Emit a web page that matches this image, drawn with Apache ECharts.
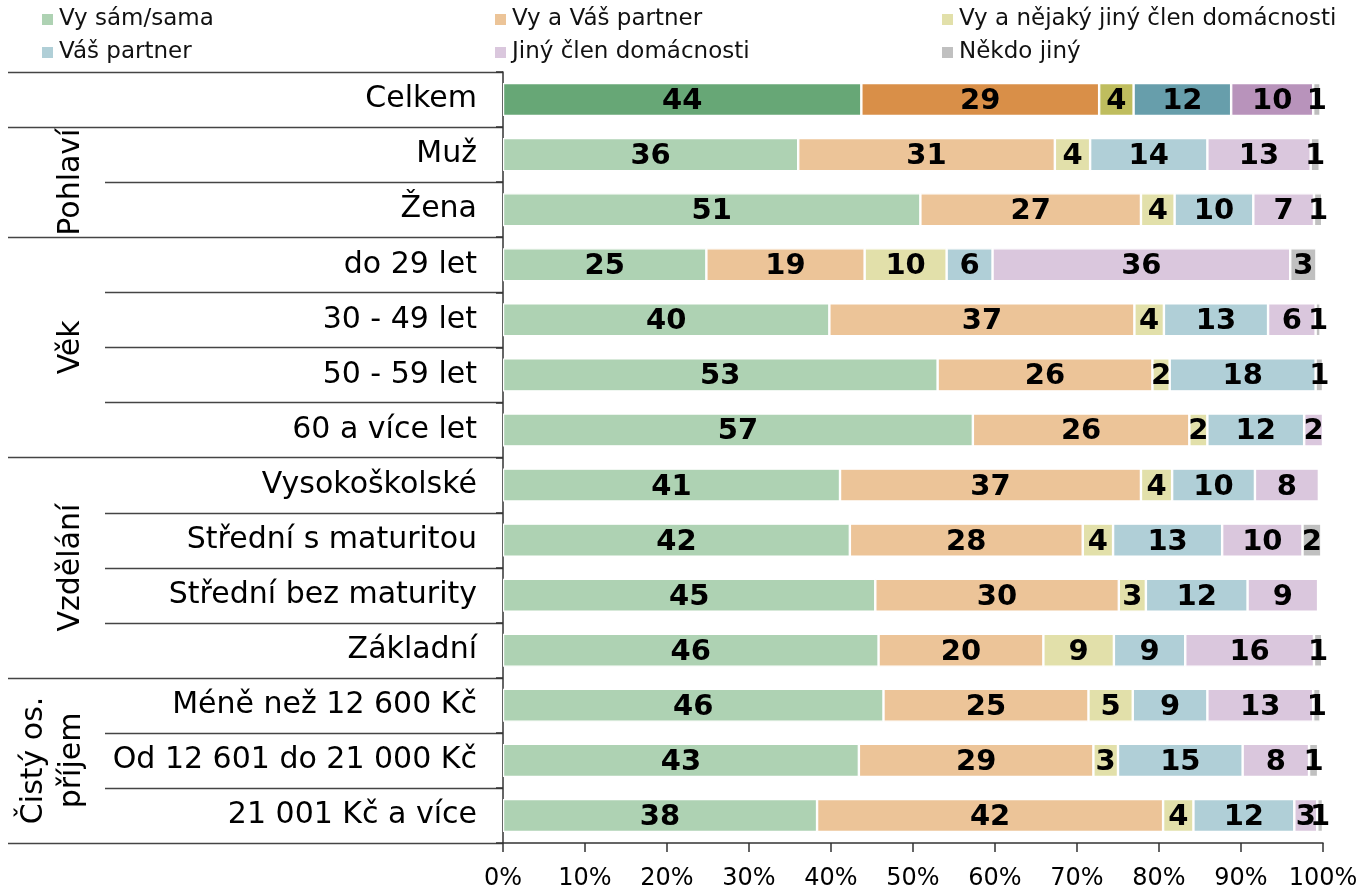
<!DOCTYPE html>
<html>
<head>
<meta charset="utf-8">
<script src="https://cdn.jsdelivr.net/npm/echarts@6/dist/echarts.min.js"></script>
<style>
html,body{margin:0;padding:0;background:#fff;}
#chart{width:1358px;height:889px;}
</style>
</head>
<body>
<div id="chart"></div>
<script>
const categories = ['Celkem','Muž','Žena','do 29 let','30 - 49 let','50 - 59 let','60 a více let','Vysokoškolské','Střední s maturitou','Střední bez maturity','Základní','Méně než 12 600 Kč','Od 12 601 do 21 000 Kč','21 001 Kč a více'];
const seriesNames = ['Vy sám/sama','Vy a Váš partner','Vy a nějaký jiný člen domácnosti','Váš partner','Jiný člen domácnosti','Někdo jiný'];
const vySam      = [43.7, 36.0, 50.9, 24.8, 39.8, 53.0, 57.3, 41.1, 42.3, 45.4, 45.8, 46.4, 43.4, 38.3];
const vyPartner  = [29.0, 31.3, 26.9, 19.3, 37.2, 26.2, 26.4, 36.7, 28.4, 29.7, 20.1, 25.0, 28.6, 42.2];
const vyJiny     = [4.2, 4.3, 4.1, 10.0, 3.6, 2.1, 2.2, 3.8, 3.7, 3.3, 8.6, 5.4, 3.0, 3.7];
const partner    = [11.9, 14.3, 9.6, 5.6, 12.7, 17.8, 11.8, 10.1, 13.3, 12.4, 8.7, 9.1, 15.2, 12.3];
const jinyClen   = [10.0, 12.6, 7.4, 36.3, 5.8, 0, 2.3, 7.8, 9.8, 8.6, 15.7, 12.9, 8.1, 2.8];
const nekdoJiny  = [0.9, 1.1, 1.0, 3.2, 0.6, 0.9, 0, 0, 2.3, 0, 1.0, 0.9, 1.1, 0.7];
const xTicks = [0,10,20,30,40,50,60,70,80,90,100];
const groups = [
  {name:'Pohlaví', from:1, to:3},
  {name:'Věk', from:3, to:7},
  {name:'Vzdělání', from:7, to:11},
  {name:'Čistý os.\npříjem', from:11, to:14}
];

const lightColors = ['#aed2b3','#ecc498','#e2e0aa','#b0cfd7','#dac7dd','#c0c0c0'];
const darkColors  = ['#67a776','#d98f48','#bfbd5e','#679eab','#b893bb','#bdbdbd'];
const allValues = [vySam, vyPartner, vyJiny, partner, jinyClen, nekdoJiny];
const FONT = 'DejaVu Sans';

const chart = echarts.init(document.getElementById('chart'));

const series = seriesNames.map((name, si) => ({
  name: name,
  type: 'bar',
  stack: 'total',
  barWidth: 33,
  itemStyle: { color: lightColors[si], borderColor: '#ffffff', borderWidth: 1.2 },
  label: {
    show: true,
    position: 'inside',
    color: '#000',
    fontFamily: FONT,
    fontWeight: 'bold',
    fontSize: 29,
    offset: [0, 2],
    formatter: p => (p.value > 0 ? String(Math.round(p.value)) : '')
  },
  emphasis: { disabled: true },
  data: allValues[si].map((v, i) => i === 0 ? { value: v, itemStyle: { color: darkColors[si] } } : v)
}));

const legendPos = [[40,8],[493,8],[940,8],[40,41],[493,41],[940,41]];
const legends = seriesNames.map((n, i) => ({
  data: [n],
  left: legendPos[i][0],
  top: legendPos[i][1],
  itemWidth: 13,
  itemHeight: 13,
  icon: 'rect',
  padding: 0,
  selectedMode: false,
  textStyle: { fontFamily: FONT, fontSize: 23, color: '#111' }
}));

chart.setOption({
  animation: false,
  textStyle: { fontFamily: FONT },
  legend: legends,
  grid: { left: 503, right: 35, top: 72, bottom: 46, containLabel: false, outerBoundsMode: 'none' },
  xAxis: {
    type: 'value',
    min: 0, max: 100, interval: 10,
    axisLine: { show: true, lineStyle: { color: '#333', width: 1.5 } },
    axisTick: { show: true, length: 9, lineStyle: { color: '#333', width: 1.5 } },
    splitLine: { show: false },
    axisLabel: { fontFamily: FONT, fontSize: 24, color: '#000', margin: 24, formatter: v => xTicks.includes(v) ? v + '%' : '' }
  },
  yAxis: {
    type: 'category',
    inverse: true,
    data: categories,
    axisLine: { show: true, lineStyle: { color: '#333', width: 1.5 } },
    axisTick: { show: true, length: 7, lineStyle: { color: '#333', width: 1.5 } },
    axisLabel: { fontFamily: FONT, fontSize: 30, color: '#000', margin: 26 }
  },
  series: series
});

// separators and group labels computed from the axis scale
const c0 = chart.convertToPixel({ yAxisIndex: 0 }, categories[0]);
const c1 = chart.convertToPixel({ yAxisIndex: 0 }, categories[1]);
const step = c1 - c0;
const x0 = chart.convertToPixel({ xAxisIndex: 0 }, 0);
const boundary = k => c0 - step / 2 + k * step;
const groupBounds = new Set([0, 1]);
groups.forEach(g => { groupBounds.add(g.from); groupBounds.add(g.to); });
const graphics = [];
for (let k = 0; k <= categories.length; k++) {
  const y = Math.round(boundary(k)) + 0.5;
  const isGroup = groupBounds.has(k);
  graphics.push({
    type: 'line',
    silent: true,
    shape: { x1: isGroup ? 8 : 105, y1: y, x2: x0, y2: y },
    style: { stroke: '#444', lineWidth: 1.5 }
  });
}
groups.forEach(g => {
  const yc = (boundary(g.from) + boundary(g.to)) / 2;
  const twoLine = g.name.indexOf('\n') >= 0;
  graphics.push({
    type: 'text',
    silent: true,
    x: twoLine ? 53 : 71,
    y: yc,
    rotation: Math.PI / 2,
    style: {
      text: g.name,
      fontFamily: FONT,
      fontSize: 30,
      fill: '#000',
      align: 'center',
      verticalAlign: 'middle',
      lineHeight: 38
    }
  });
});
chart.setOption({ graphic: graphics });
</script>
</body>
</html>
